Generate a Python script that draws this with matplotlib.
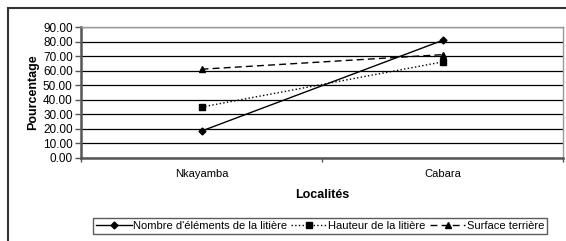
import matplotlib.pyplot as plt
from matplotlib.lines import Line2D

plt.rcParams['font.family'] = ['Liberation Sans', 'DejaVu Sans']

localites = ['Nkayamba', 'Cabara']
nombre = [18.5, 80.8]
hauteur = [35.0, 66.0]
surface = [61.0, 71.0]

fig = plt.figure(figsize=(5.66, 2.41), dpi=100)
W, H = 566, 241
ax = fig.add_axes([81 / W, 1 - 158 / H, (563 - 81) / W, (158 - 27) / H])

x = [0, 1]
ax.plot(x, nombre, '-', color='black', lw=1, marker='D', ms=3.5,
        label="Nombre d'éléments de la litière")
ax.plot(x, hauteur, ':', color='black', lw=1, marker='s', ms=4,
        label='Hauteur de la litière')
ax.plot(x, surface, '--', color='black', lw=1, marker='^', ms=4.5,
        dashes=(5, 3), label='Surface terrière')

ax.set_xlim(-0.5, 1.5)
ax.set_ylim(0, 90)
ax.set_yticks(range(0, 91, 10))
ax.set_yticklabels(['%.2f' % v for v in range(0, 91, 10)], fontsize=8.5)
ax.set_xticks(x)
ax.set_xticklabels(localites, fontsize=8)
ax.set_xticks([-0.5, 0.5, 1.5], minor=True)
ax.tick_params(axis='x', which='major', length=0, pad=8)
ax.tick_params(axis='x', which='minor', length=3, width=1, color='#555555')
ax.tick_params(axis='y', length=4, width=1, color='#555555', pad=2)
ax.grid(axis='y', color='black', lw=0.9)
ax.set_axisbelow(True)

for s in ['top', 'right']:
    ax.spines[s].set_color('#999999')
    ax.spines[s].set_linewidth(1)
for s in ['left', 'bottom']:
    ax.spines[s].set_color('#555555')
    ax.spines[s].set_linewidth(1.8)

ax.set_ylabel('Pourcentage', fontsize=9, fontweight='bold', labelpad=3)
ax.set_xlabel('Localités', fontsize=9, fontweight='bold', labelpad=7)

leg = fig.legend(loc='center', bbox_to_anchor=(320 / W, 1 - 226 / H), ncol=3,
                 fontsize=8, frameon=True, fancybox=False, handlelength=3.2,
                 columnspacing=0.4, handletextpad=0.1, borderpad=0.3)
leg.get_frame().set_edgecolor('#333333')
leg.get_frame().set_linewidth(1)

# outer chart border (only left and top visible)
fig.add_artist(Line2D([8 / W, 8 / W], [0, 1 - 8 / H], color='#333333', lw=1.5,
                      transform=fig.transFigure))
fig.add_artist(Line2D([8 / W, 1], [1 - 8 / H, 1 - 8 / H], color='#333333', lw=1.5,
                      transform=fig.transFigure))

fig.savefig('out.png', dpi=100)
